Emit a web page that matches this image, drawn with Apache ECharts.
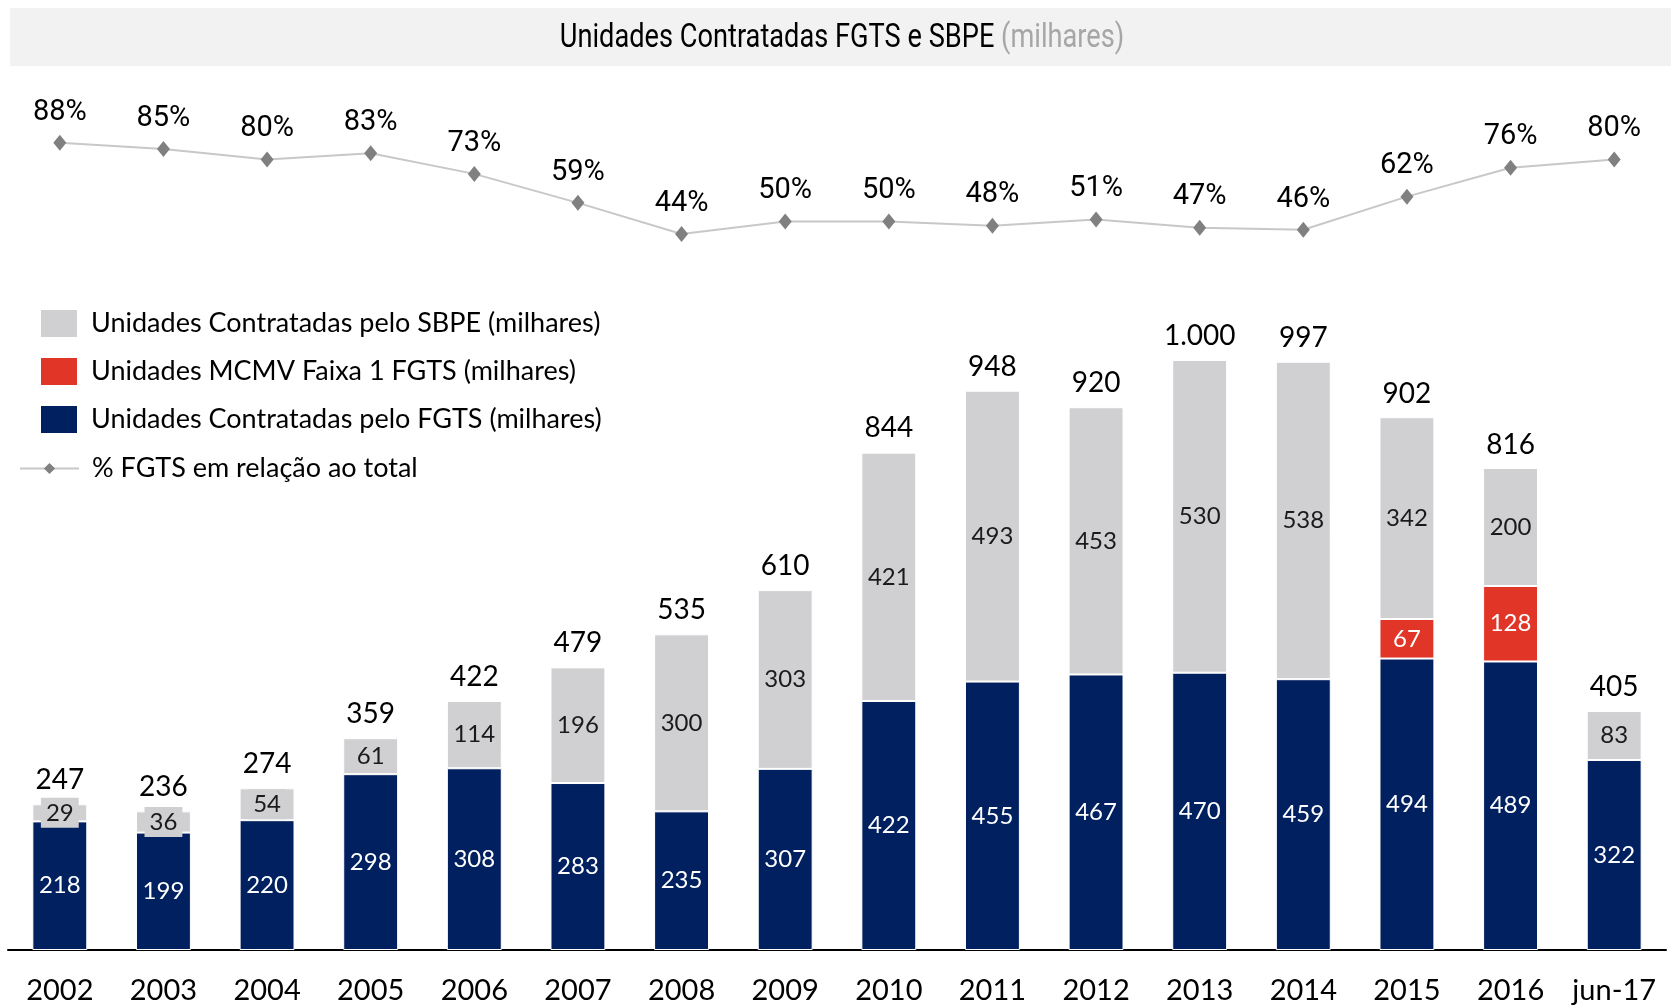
<!DOCTYPE html>
<html>
<head>
<meta charset="utf-8">
<title>Unidades Contratadas FGTS e SBPE</title>
<script src="https://cdn.jsdelivr.net/npm/echarts@6/dist/echarts.min.js"></script>
<style>
  html, body { margin: 0; padding: 0; background: #fff; }
  #chart { width: 1671px; height: 1005px; }
</style>
</head>
<body>
<div id="chart"></div>
<script>
// categorias (anos)
var anos = ['2002', '2003', '2004', '2005', '2006', '2007', '2008', '2009', '2010', '2011', '2012', '2013', '2014', '2015', '2016', 'jun-17'];
// unidades contratadas pelo FGTS (milhares)
var fgts = [218, 199, 220, 298, 308, 283, 235, 307, 422, 455, 467, 470, 459, 494, 489, 322];
// MCMV faixa 1 FGTS (milhares) - só 2015 e 2016
var mcmv = [null, null, null, null, null, null, null, null, null, null, null, null, null, 67, 128, null];
// unidades contratadas pelo SBPE (milhares)
var sbpe = [29, 36, 54, 61, 114, 196, 300, 303, 421, 493, 453, 530, 538, 342, 200, 83];
// total por ano, como aparece no topo da barra
var totais = [247, 236, 274, 359, 422, 479, 535, 610, 844, 948, 920, 1000, 997, 902, 816, 405];
// % FGTS em relação ao total
var pctFgts = [88, 85, 80, 83, 73, 59, 44, 50, 50, 48, 51, 47, 46, 62, 76, 80];

var nomeSbpe = 'Unidades Contratadas pelo SBPE (milhares)';
var nomeMcmv = 'Unidades MCMV Faixa 1 FGTS (milhares)';
var nomeFgts = 'Unidades Contratadas pelo FGTS (milhares)';
var nomePct = '% FGTS em relação ao total';

var fonte = 'Lato, "Open Sans", sans-serif';
var fonteTitulo = 'Roboto, sans-serif';
var larguraBarra = '53%';

// 1000 -> "1.000"
function milhar(v) {
  return String(v).replace(/\B(?=(\d{3})+(?!\d))/g, '.');
}

var myChart = echarts.init(document.getElementById('chart'));

var option = {
  backgroundColor: '#fff',
  animation: false,
  graphic: [{
    // faixa cinza do título
    type: 'rect',
    z: -1,
    shape: { x: 10, y: 8, width: 1661, height: 58 },
    style: { fill: '#f2f2f2' }
  }, {
    // título em fonte "condensada" (escala horizontal)
    type: 'text',
    x: 842,
    y: 38,
    scaleX: 0.8,
    style: {
      text: '{a|Unidades Contratadas FGTS e SBPE\u00a0}{b|(milhares)}',
      align: 'center',
      verticalAlign: 'middle',
      rich: {
        a: { fontFamily: fonteTitulo, fontSize: 34, fill: '#000' },
        b: { fontFamily: fonteTitulo, fontSize: 34, fill: '#a6a6a6' }
      }
    }
  }],
  legend: [{
    data: [nomeSbpe, nomeMcmv, nomeFgts],
    orient: 'vertical',
    left: 39,
    top: 308,
    padding: 0,
    itemWidth: 38,
    itemHeight: 29,
    itemGap: 17,
    icon: 'rect',
    textStyle: { fontFamily: fonte, fontSize: 27, color: '#000', padding: [0, 0, 0, 8] }
  }, {
    data: [nomePct],
    orient: 'vertical',
    left: 19,
    top: 455,
    padding: 0,
    itemWidth: 59,
    itemHeight: 14,
    textStyle: { fontFamily: fonte, fontSize: 27, color: '#000', padding: [0, 0, 0, 8] }
  }],
  grid: [
    // barras
    { left: 8, right: 5, top: 360, bottom: 55 },
    // linha de %
    { left: 8, right: 5, top: 118, bottom: 680 }
  ],
  xAxis: [{
    type: 'category',
    gridIndex: 0,
    data: anos,
    axisLine: { lineStyle: { color: '#000', width: 2 } },
    axisTick: { show: false },
    axisLabel: { interval: 0, fontFamily: fonte, fontSize: 29, color: '#000', margin: 26 }
  }, {
    type: 'category',
    gridIndex: 1,
    data: anos,
    show: false
  }],
  yAxis: [{
    type: 'value',
    gridIndex: 0,
    min: 0,
    max: 1000,
    show: false
  }, {
    type: 'value',
    gridIndex: 1,
    min: 0,
    max: 100,
    show: false
  }],
  series: [{
    name: nomeFgts,
    type: 'bar',
    stack: 'total',
    barWidth: larguraBarra,
    data: fgts,
    itemStyle: { color: '#012060', borderColor: '#fff', borderWidth: 1 },
    label: {
      show: true,
      position: 'inside',
      color: '#fff',
      fontFamily: fonte,
      fontSize: 24
    }
  }, {
    name: nomeMcmv,
    type: 'bar',
    stack: 'total',
    barWidth: larguraBarra,
    data: mcmv,
    itemStyle: { color: '#e03527', borderColor: '#fff', borderWidth: 1 },
    label: {
      show: true,
      position: 'inside',
      color: '#fff',
      fontFamily: fonte,
      fontSize: 24
    }
  }, {
    name: nomeSbpe,
    type: 'bar',
    stack: 'total',
    barWidth: larguraBarra,
    data: sbpe,
    itemStyle: { color: '#d0d0d2', borderColor: '#fff', borderWidth: 1 },
    label: {
      show: true,
      position: 'inside',
      color: '#1a1a1a',
      fontFamily: fonte,
      fontSize: 24,
      backgroundColor: '#d0d0d2',
      padding: [3, 5]
    }
  }, {
    // só para o rótulo do total em cima da barra
    name: 'Total',
    type: 'bar',
    barWidth: larguraBarra,
    barGap: '-100%',
    data: totais,
    silent: true,
    itemStyle: { color: 'rgba(0,0,0,0)' },
    label: {
      show: true,
      position: 'top',
      distance: 10,
      color: '#000',
      fontFamily: fonte,
      fontSize: 28,
      formatter: function (p) { return milhar(p.value); }
    },
    z: 1
  }, {
    name: nomePct,
    type: 'line',
    xAxisIndex: 1,
    yAxisIndex: 1,
    data: pctFgts,
    symbol: 'diamond',
    symbolSize: [13, 16],
    lineStyle: { color: '#c8c8c8', width: 2 },
    itemStyle: { color: '#808080' },
    label: {
      show: true,
      position: 'top',
      distance: 8,
      color: '#000',
      fontFamily: fonteTitulo,
      fontSize: 29,
      formatter: '{c}%'
    }
  }]
};

myChart.setOption(option);
</script>
</body>
</html>
